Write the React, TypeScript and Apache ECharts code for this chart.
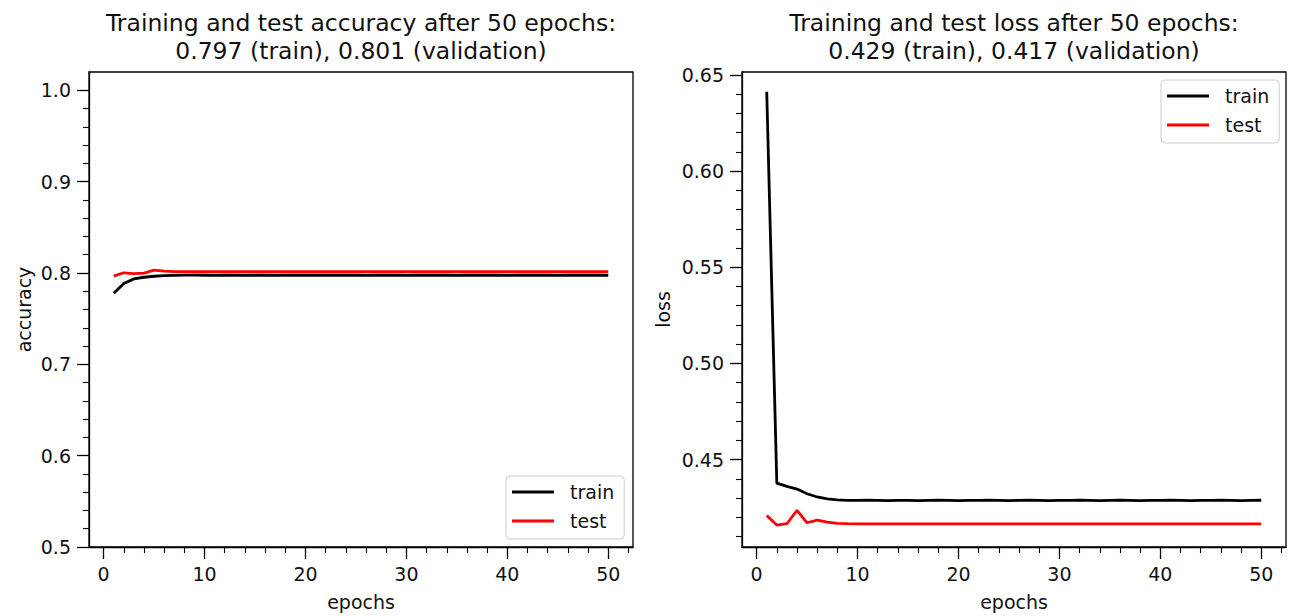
import React, { useEffect, useRef } from "react";
import * as echarts from "echarts";

const epochs: number[] = Array.from({ length: 50 }, (_, i) => i + 1);

const trainAccuracy = [
  0.7779, 0.7885, 0.7935, 0.7953, 0.7964, 0.797, 0.7974, 0.7976, 0.7977, 0.7975,
  0.7973, 0.7976, 0.7975, 0.7974, 0.7975, 0.7975, 0.7974, 0.7976, 0.7975, 0.7975,
  0.7976, 0.7975, 0.7975, 0.7976, 0.7975, 0.7974, 0.7975, 0.7976, 0.7975, 0.7974,
  0.7975, 0.7976, 0.7975, 0.7975, 0.7974, 0.7975, 0.7976, 0.7975, 0.7975, 0.7974,
  0.7975, 0.7975, 0.7976, 0.7975, 0.7974, 0.7975, 0.7975, 0.7976, 0.7975, 0.7974,
];
const testAccuracy = [
  0.7965, 0.8002, 0.7993, 0.7998, 0.8032, 0.802, 0.8015, 0.8014, 0.8013, 0.8013,
  0.8013, 0.8013, 0.8013, 0.8013, 0.8013, 0.8013, 0.8013, 0.8013, 0.8013, 0.8013,
  0.8013, 0.8013, 0.8013, 0.8013, 0.8013, 0.8013, 0.8013, 0.8013, 0.8013, 0.8013,
  0.8013, 0.8013, 0.8013, 0.8013, 0.8013, 0.8013, 0.8013, 0.8013, 0.8013, 0.8013,
  0.8013, 0.8013, 0.8013, 0.8013, 0.8013, 0.8013, 0.8013, 0.8013, 0.8013, 0.8013,
];
const trainLoss = [
  0.6412, 0.4378, 0.4361, 0.4347, 0.4323, 0.4306, 0.4296, 0.4291, 0.4288, 0.4288,
  0.4289, 0.4288, 0.4287, 0.4288, 0.4288, 0.4287, 0.4288, 0.4289, 0.4288, 0.4287,
  0.4288, 0.4288, 0.4289, 0.4288, 0.4287, 0.4288, 0.4289, 0.4288, 0.4287, 0.4288,
  0.4288, 0.4289, 0.4288, 0.4287, 0.4288, 0.4289, 0.4288, 0.4287, 0.4288, 0.4288,
  0.4289, 0.4288, 0.4287, 0.4288, 0.4288, 0.4289, 0.4288, 0.4287, 0.4288, 0.4289,
];
const testLoss = [
  0.421, 0.416, 0.4167, 0.4237, 0.4172, 0.4186, 0.4175, 0.4169, 0.4167, 0.4166,
  0.4166, 0.4166, 0.4166, 0.4166, 0.4166, 0.4166, 0.4166, 0.4166, 0.4166, 0.4166,
  0.4166, 0.4166, 0.4166, 0.4166, 0.4166, 0.4166, 0.4166, 0.4166, 0.4166, 0.4166,
  0.4166, 0.4166, 0.4166, 0.4166, 0.4166, 0.4166, 0.4166, 0.4166, 0.4166, 0.4166,
  0.4166, 0.4166, 0.4166, 0.4166, 0.4166, 0.4166, 0.4166, 0.4166, 0.4166, 0.4166,
];

const xMajorTicks = [0, 10, 20, 30, 40, 50];
const xMinorTicks = [2, 4, 6, 8, 12, 14, 16, 18, 22, 24, 26, 28, 32, 34, 36, 38, 42, 44, 46, 48, 52];
const accMajorTicks = [0.5, 0.6, 0.7, 0.8, 0.9, 1.0];
const accMinorTicks = [0.52, 0.54, 0.56, 0.58, 0.62, 0.64, 0.66, 0.68, 0.72, 0.74, 0.76, 0.78, 0.82, 0.84, 0.86, 0.88, 0.92, 0.94, 0.96, 0.98];
const lossMajorTicks = [0.45, 0.5, 0.55, 0.6, 0.65];
const lossMinorTicks = [0.41, 0.42, 0.43, 0.44, 0.46, 0.47, 0.48, 0.49, 0.51, 0.52, 0.53, 0.54, 0.56, 0.57, 0.58, 0.59, 0.61, 0.62, 0.63, 0.64];

const titles = [
  "Training and test accuracy after 50 epochs:\n0.797 (train), 0.801 (validation)",
  "Training and test loss after 50 epochs:\n0.429 (train), 0.417 (validation)",
];
const seriesNames = ["train", "test"];
const FONT = "DejaVu Sans";

export default function App() {
  const ref = useRef<HTMLDivElement>(null);
  useEffect(() => {
    if (!ref.current) return;
    const chart = echarts.init(ref.current, null, { renderer: "svg" });
    const xRange = { min: -1.45, max: 52.45 };
    const grids = [
      { left: 89, top: 72, width: 544, height: 479 },
      { left: 742, top: 72, width: 544, height: 479 },
    ];
    const yRanges = [
      { min: 0.5, max: 1.02 },
      { min: 0.4046, max: 0.6515 },
    ];
    const yMajors = [accMajorTicks, lossMajorTicks];
    const yMinors = [accMinorTicks, lossMinorTicks];
    const yNames = ["accuracy", "loss"];
    const yNameGaps = [56, 70];
    const yDigits = [1, 2];

    const labelStyle = { fontFamily: FONT, fontSize: 19, color: "#111" };

    const xAxis: any[] = [];
    const yAxis: any[] = [];
    [0, 1].forEach((g) => {
      xAxis.push({
        type: "value",
        gridIndex: g,
        ...xRange,
        position: "bottom",
        name: "epochs",
        nameLocation: "middle",
        nameGap: 45,
        nameTextStyle: labelStyle,
        axisLine: { show: true, onZero: false, lineStyle: { color: "#000", width: 1.3 } },
        axisTick: { show: true, customValues: xMajorTicks, length: 12, lineStyle: { color: "#000", width: 1.3 } },
        axisLabel: { show: true, customValues: xMajorTicks, margin: 17, formatter: (v: number) => String(Math.round(v)), ...labelStyle },
        splitLine: { show: false },
      });
      xAxis.push({
        type: "value",
        gridIndex: g,
        ...xRange,
        position: "bottom",
        offset: 0,
        axisLine: { show: false, onZero: false },
        axisTick: { show: true, customValues: xMinorTicks, length: 6, lineStyle: { color: "#000", width: 1.1 } },
        axisLabel: { show: false },
        splitLine: { show: false },
      });
      yAxis.push({
        type: "value",
        gridIndex: g,
        ...yRanges[g],
        position: "left",
        name: yNames[g],
        nameLocation: "middle",
        nameGap: yNameGaps[g],
        nameTextStyle: labelStyle,
        axisLine: { show: true, onZero: false, lineStyle: { color: "#000", width: 1.3 } },
        axisTick: { show: true, customValues: yMajors[g], length: 12, lineStyle: { color: "#000", width: 1.3 } },
        axisLabel: { show: true, customValues: yMajors[g], margin: 18, formatter: (v: number) => v.toFixed(yDigits[g]), ...labelStyle },
        splitLine: { show: false },
      });
      yAxis.push({
        type: "value",
        gridIndex: g,
        ...yRanges[g],
        position: "left",
        offset: 0,
        axisLine: { show: false, onZero: false },
        axisTick: { show: true, customValues: yMinors[g], length: 6, lineStyle: { color: "#000", width: 1.1 } },
        axisLabel: { show: false },
        splitLine: { show: false },
      });
    });

    const mk = (name: string, vals: number[], g: number, color: string) => ({
      type: "line",
      name,
      xAxisIndex: g * 2,
      yAxisIndex: g * 2,
      data: epochs.map((e, i) => [e, vals[i]]),
      showSymbol: false,
      symbol: "none",
      lineStyle: { color, width: 2.8 },
      itemStyle: { color },
      z: name === "train" ? 3 : 2,
    });

    const legendBase = {
      orient: "vertical",
      icon: "rect",
      itemWidth: 42,
      itemHeight: 2.8,
      itemGap: 9,
      padding: [6, 10, 8, 6],
      borderColor: "#cccccc",
      borderWidth: 1,
      borderRadius: 4,
      backgroundColor: "rgba(255,255,255,0.8)",
      textStyle: { fontFamily: FONT, fontSize: 19, color: "#111", lineHeight: 20, padding: [0, 0, 0, 11] },
      data: seriesNames,
      selectedMode: false,
    };

    chart.setOption({
      animation: false,
      title: titles.map((t, g) => ({
        text: t,
        left: grids[g].left + grids[g].width / 2,
        top: 9,
        textAlign: "center",
        padding: 0,
        textStyle: { fontFamily: FONT, fontSize: 23.5, fontWeight: "normal", color: "#111", lineHeight: 28 },
      })),
      legend: [
        { ...legendBase, left: 506, top: 476 },
        { ...legendBase, left: 1161, top: 80 },
      ],
      grid: grids.map((g) => ({ ...g, show: true, borderColor: "#000", borderWidth: 1.3, backgroundColor: "transparent" })),
      xAxis,
      yAxis,
      series: [
        mk(seriesNames[0], trainAccuracy, 0, "#000000"),
        mk(seriesNames[1], testAccuracy, 0, "#ff0000"),
        mk(seriesNames[0], trainLoss, 1, "#000000"),
        mk(seriesNames[1], testLoss, 1, "#ff0000"),
      ],
    });
    return () => chart.dispose();
  }, []);
  return <div ref={ref} style={{ position: "absolute", left: 0, top: 0, width: 1289, height: 616 }} />;
}
